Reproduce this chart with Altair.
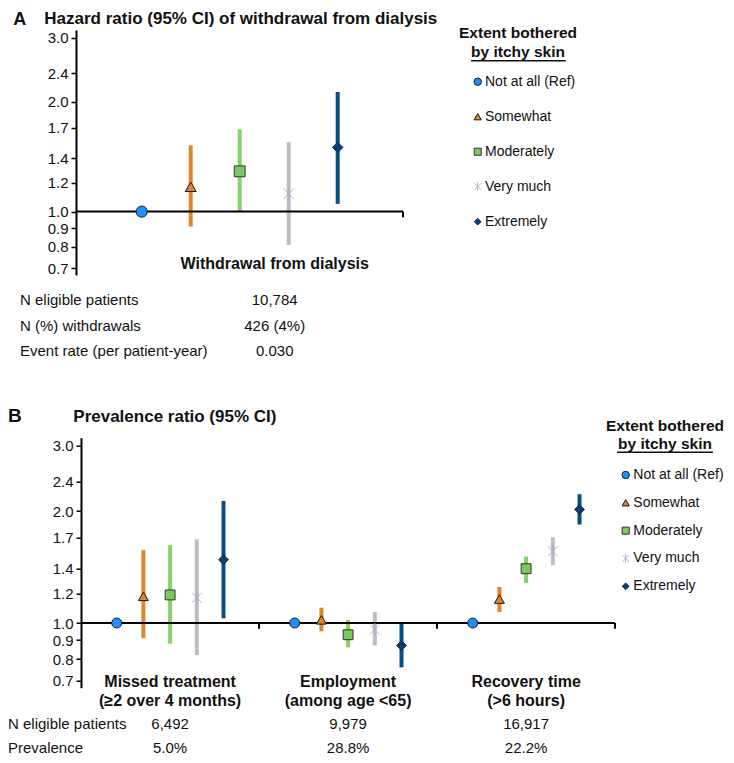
import altair as alt
import pandas as pd

FONT = "Liberation Sans"

LEVELS = ["Not at all (Ref)", "Somewhat", "Moderately", "Very much", "Extremely"]

# Panel A: hazard ratio of withdrawal from dialysis
A_OUTCOMES = ["Withdrawal from dialysis"]
A_EST = [[1.00, 1.17, 1.29, 1.12, 1.50]]
A_LO = [[None, 0.91, 1.00, 0.81, 1.05]]
A_HI = [[None, 1.52, 1.68, 1.55, 2.13]]
A_ROW_LABELS = ["N eligible patients", "N (%) withdrawals", "Event rate (per patient-year)"]
A_ROW_VALUES = ["10,784", "426 (4%)", "0.030"]

# Panel B: prevalence ratios
B_OUTCOMES = ["Missed treatment\n(≥2 over 4 months)",
              "Employment\n(among age <65)",
              "Recovery time\n(>6 hours)"]
B_EST = [[1.00, 1.18, 1.19, 1.17, 1.48],
         [1.00, 1.02, 0.93, 0.96, 0.87],
         [1.00, 1.16, 1.40, 1.56, 2.02]]
B_LO = [[None, 0.91, 0.88, 0.82, 1.03],
        [None, 0.95, 0.86, 0.87, 0.76],
        [None, 1.07, 1.28, 1.43, 1.84]]
B_HI = [[None, 1.57, 1.62, 1.68, 2.13],
        [None, 1.10, 1.02, 1.07, 1.00],
        [None, 1.25, 1.51, 1.70, 2.22]]
B_ROW_LABELS = ["N eligible patients", "Prevalence"]
B_ROW_VALUES = [["6,492", "9,979", "16,917"],
                ["5.0%", "28.8%", "22.2%"]]

Y_TICKS = [0.7, 0.8, 0.9, 1.0, 1.2, 1.4, 1.7, 2.0, 2.4, 3.0]
Y_DOMAIN = [0.67, 3.15]

MARKER_FILL = ["#1E8FFF", "#E0852A", "#7BC95F", "#A9B3CC", "#0A3F75"]
MARKER_STROKE = ["#1a1a1a", "#1a1a1a", "#333333", "#A9B3CC", "#0A2A4F"]
MARKER_SW = [1, 1, 1, 1.6, 1]
BAR_COLOR = ["#1E8FFF", "#E0852A", "#85D26B", "#BDBDC2", "#0B4C87"]
SHAPES = ["circle", "triangle-up", "square",
          "M-1,-1L1,1M-1,1L1,-1M0,-1.3L0,1.3", "diamond"]

fill_enc = alt.Fill("level:N", scale=alt.Scale(domain=LEVELS, range=MARKER_FILL), legend=None)
stroke_enc = alt.Stroke("level:N", scale=alt.Scale(domain=LEVELS, range=MARKER_STROKE), legend=None)
sw_enc = alt.StrokeWidth("level:N", scale=alt.Scale(domain=LEVELS, range=MARKER_SW), legend=None)
shape_enc = alt.Shape("level:N", scale=alt.Scale(domain=LEVELS, range=SHAPES), legend=None)


def text_layer(text, x, y, size=15, bold=False, align="left", baseline="alphabetic"):
    return alt.Chart(pd.DataFrame({"t": [text]})).mark_text(
        align=align, baseline=baseline, fontSize=size, font=FONT,
        fontWeight="bold" if bold else "normal", color="#111111"
    ).encode(x=alt.value(x), y=alt.value(y), text="t:N")


def build_panel(outcomes, est, lo, hi, width, height, xdom, group_step,
                axis_offset, label_dx, label_y, sizes, leg_sizes, title_parts,
                legend_geo, rows, top_anchor=None):
    recs = []
    for g, oc in enumerate(outcomes):
        for i, lev in enumerate(LEVELS):
            recs.append(dict(outcome=oc, level=lev, pos=g * group_step + i,
                             est=est[g][i], lo=lo[g][i], hi=hi[g][i]))
    df = pd.DataFrame(recs)
    bars_df = df.dropna(subset=["lo"])

    xs = alt.Scale(domain=xdom, nice=False, zero=False)
    ys = alt.Scale(type="log", domain=Y_DOMAIN, nice=False, zero=False)
    yaxis = alt.Axis(values=Y_TICKS, format=".1f", title=None, grid=False,
                     domainColor="black", domainWidth=2, tickColor="black",
                     tickWidth=1.5, tickSize=5, labelFontSize=15, labelFont=FONT,
                     labelColor="#111111", labelPadding=3, offset=axis_offset)

    bars = alt.Chart(bars_df).mark_rule(strokeWidth=4).encode(
        x=alt.X("pos:Q", scale=xs, axis=None),
        y=alt.Y("lo:Q", scale=ys, axis=yaxis),
        y2="hi:Q",
        color=alt.Color("level:N", scale=alt.Scale(domain=LEVELS, range=BAR_COLOR), legend=None),
    )
    baseline = alt.Chart(pd.DataFrame({"v": [1.0]})).mark_rule(
        color="black", strokeWidth=2).encode(
        x=alt.value(-axis_offset), x2=alt.value(width),
        y=alt.Y("v:Q", scale=ys, axis=yaxis),
    )
    tick_df = pd.DataFrame({"tp": [(g + 1) * group_step + xdom[0] for g in range(len(outcomes))],
                            "a": 1.0, "b": 0.965})
    ticks = alt.Chart(tick_df).mark_rule(color="black", strokeWidth=2).encode(
        x=alt.X("tp:Q", scale=xs, axis=None),
        y=alt.Y("a:Q", scale=ys, axis=yaxis), y2="b:Q",
    )
    pts = alt.Chart(df).mark_point(filled=True, opacity=1).encode(
        x=alt.X("pos:Q", scale=xs, axis=None),
        y=alt.Y("est:Q", scale=ys, axis=yaxis),
        fill=fill_enc, stroke=stroke_enc, strokeWidth=sw_enc, shape=shape_enc,
        size=alt.Size("level:N", scale=alt.Scale(domain=LEVELS, range=sizes), legend=None),
    )
    lab_df = pd.DataFrame({"cpos": [g * group_step + 2 for g in range(len(outcomes))],
                           "lab": outcomes})
    oc_labels = alt.Chart(lab_df).mark_text(
        fontSize=16, fontWeight="bold", font=FONT, color="#111111", align="center",
        baseline="alphabetic", lineBreak="\n", lineHeight=19, dx=label_dx
    ).encode(x=alt.X("cpos:Q", scale=xs, axis=None), y=alt.value(label_y), text="lab:N")

    layers = [bars, baseline, ticks, pts, oc_labels]

    if top_anchor is not None:
        # invisible spacer that reserves head-room above the panel title
        layers.append(alt.Chart(pd.DataFrame({"s": [0]})).mark_rule(
            strokeOpacity=0, strokeWidth=1).encode(
            x=alt.value(0), x2=alt.value(10), y=alt.value(top_anchor)))

    # table rows
    row_lab_x, row_ys, row_values, value_dx = rows
    for r, (rl, ry) in enumerate(zip(row_lab_x[0], row_ys)):
        layers.append(text_layer(rl, row_lab_x[1], ry))
        vdf = pd.DataFrame({"cpos": [g * group_step + 2 for g in range(len(outcomes))],
                            "val": row_values[r]})
        layers.append(alt.Chart(vdf).mark_text(
            fontSize=15, font=FONT, color="#111111", align="center",
            baseline="alphabetic", dx=value_dx
        ).encode(x=alt.X("cpos:Q", scale=xs, axis=None), y=alt.value(ry), text="val:N"))

    # panel letter and title
    (letter, lx, ly, lsize), (ttl, tx, ty) = title_parts
    layers.append(text_layer(letter, lx, ly, size=lsize, bold=True))
    layers.append(text_layer(ttl, tx, ty, size=17, bold=True))

    # legend title + underline
    cx, l1, l2, ul, ux0, ux1, mx, lblx, yr = legend_geo
    layers.append(text_layer("Extent bothered", cx, l1, size=15.5, bold=True, align="center"))
    layers.append(text_layer("by itchy skin", cx, l2, size=15.5, bold=True, align="center"))
    layers.append(alt.Chart(pd.DataFrame({"u": [0]})).mark_rule(
        color="#111111", strokeWidth=1.5).encode(
        x=alt.value(ux0), x2=alt.value(ux1), y=alt.value(ul)))

    main = alt.layer(*layers)

    leg_df = pd.DataFrame({"level": LEVELS})
    leg_y = alt.Y("level:N", sort=LEVELS,
                  scale=alt.Scale(type="point", range=yr, padding=0), axis=None)
    leg_pts = alt.Chart(leg_df).mark_point(filled=True, opacity=1).encode(
        x=alt.value(mx), y=leg_y, fill=fill_enc, stroke=stroke_enc,
        strokeWidth=sw_enc, shape=shape_enc,
        size=alt.Size("level:N", scale=alt.Scale(domain=LEVELS, range=leg_sizes), legend=None),
    )
    leg_txt = alt.Chart(leg_df).mark_text(
        align="left", baseline="middle", fontSize=14, font=FONT, color="#111111"
    ).encode(x=alt.value(lblx), y=leg_y, text="level:N")
    legend = alt.layer(leg_pts, leg_txt)

    return alt.layer(main, legend).resolve_scale(
        y="independent", size="independent"
    ).properties(width=width, height=height)


panel_a = build_panel(
    A_OUTCOMES, A_EST, A_LO, A_HI, width=322, height=245,
    xdom=[-1.239, 5.333], group_step=6.572, axis_offset=5, label_dx=35, label_y=238.5,
    sizes=[125, 110, 115, 100, 80], leg_sizes=[55, 45, 55, 45, 40],
    title_parts=(("A", -67.7, -5.5, 18), ("Hazard ratio (95% CI) of withdrawal from dialysis", -36.7, -6)),
    legend_geo=(437, 8.3, 26.5, 30.7, 390, 484.7, 396.7, 404, [51.7, 191.7]),
    rows=((A_ROW_LABELS, -61), [275, 300.7, 326], [[v] for v in A_ROW_VALUES], 35),
    top_anchor=-21.5,
)

panel_b = build_panel(
    B_OUTCOMES, B_EST, B_LO, B_HI, width=534, height=250,
    xdom=[-1.337, 18.663], group_step=6.667, axis_offset=0, label_dx=0, label_y=249,
    sizes=[100, 95, 100, 90, 70], leg_sizes=[55, 45, 55, 45, 40],
    title_parts=(("B", -73, -16, 19), ("Prevalence ratio (95% CI)", -7.7, -15.4)),
    legend_geo=(584, -7, 11.6, 14.6, 536, 632, 544.7, 552.3, [37.3, 148.6]),
    rows=((B_ROW_LABELS, -73), [291, 315], B_ROW_VALUES, 0),
)

chart = alt.vconcat(panel_a, panel_b, spacing=162.7, bounds="flush").resolve_scale(
    size="independent"
).properties(padding=0).configure_view(stroke=None)

chart.save("out.html", embed_options={"renderer": "svg", "actions": False})
